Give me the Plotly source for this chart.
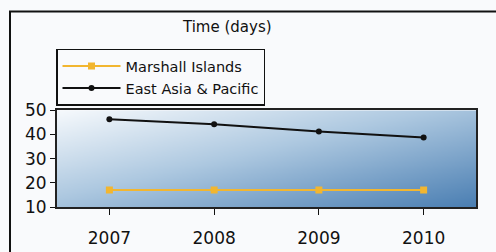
import plotly.graph_objects as go

years = [2007, 2008, 2009, 2010]
marshall = [17, 17, 17, 17]
east_asia = [46.3, 44.2, 41.2, 38.8]
y_ticks = [10, 20, 30, 40, 50]

W, H = 496, 252
px = lambda v: v / W
py = lambda v: 1 - v / H

x0, x1 = px(57), px(476)
y0, y1 = py(214), py(109)

# diagonal gradient background for the plot area
n = 40
gz = [[0.5 * (j / (n - 1)) + 0.5 * (1 - i / (n - 1)) for j in range(n)] for i in range(n)]
grid = [k / (n - 1) for k in range(n)]

FONT = "DejaVu Sans, Verdana, sans-serif"

fig = go.Figure()
fig.add_trace(go.Heatmap(z=gz, x=grid, y=grid, xaxis="x", yaxis="y", showscale=False,
                         zsmooth="best", hoverinfo="skip", showlegend=False,
                         colorscale=[[0, "#f6f9fc"], [0.45, "#adc8e0"], [1, "#4a7eb2"]]))
fig.add_trace(go.Scatter(x=years, y=marshall, name="Marshall Islands", xaxis="x2", yaxis="y2",
                         mode="lines+markers", line=dict(color="#f2b630", width=2),
                         marker=dict(symbol="square", size=7, color="#f2b630")))
fig.add_trace(go.Scatter(x=years, y=east_asia, name="East Asia & Pacific", xaxis="x2", yaxis="y2",
                         mode="lines+markers", line=dict(color="#111111", width=2),
                         marker=dict(symbol="circle", size=6, color="#111111")))

fig.update_layout(
    width=W, height=H, margin=dict(l=0, r=0, t=0, b=0),
    paper_bgcolor="#f9fafc", plot_bgcolor="rgba(0,0,0,0)",
    font=dict(family=FONT, size=16, color="#111111"),
    xaxis=dict(domain=[x0, x1], range=[0, 1], visible=False, fixedrange=True),
    yaxis=dict(domain=[y0, y1], range=[0, 1], visible=False, fixedrange=True),
    xaxis2=dict(domain=[x0, x1], overlaying="x", anchor="y2", range=[2006.5, 2010.5],
                tickmode="array", tickvals=years, ticktext=[str(y) for y in years],
                ticks="outside", ticklen=6, tickcolor="#111111", showgrid=False, zeroline=False,
                showline=True, linecolor="#222222", linewidth=2, mirror=True,
                ticklabelstandoff=9, tickfont=dict(size=17)),
    yaxis2=dict(domain=[y0, y1], overlaying="y", anchor="x2", range=[10, 50],
                tickmode="array", tickvals=y_ticks, ticks="outside", ticklen=5, tickcolor="#111111",
                showgrid=False, zeroline=False, showline=True, linecolor="#222222", linewidth=2,
                mirror=True, tickfont=dict(size=17)),
    showlegend=True,
    legend=dict(x=px(56), y=py(42), xanchor="left", yanchor="top", bgcolor="#f9fafc",
                bordercolor="#111111", borderwidth=1.5, font=dict(size=14.5),
                itemwidth=58, traceorder="normal", tracegroupgap=0),
    annotations=[dict(text="Time (days)", x=px(227), y=py(18), xref="paper", yref="paper",
                      showarrow=False, font=dict(size=15), xanchor="center", yanchor="middle")],
    shapes=[dict(type="rect", xref="paper", yref="paper", x0=px(10), x1=px(510), y0=py(1.5), y1=py(270),
                 line=dict(color="#111111", width=2), fillcolor="rgba(0,0,0,0)", layer="below")],
)

fig.write_html("out.html", config={"displayModeBar": False},
               post_script="document.body.style.margin='0';document.body.style.overflow='hidden';")
